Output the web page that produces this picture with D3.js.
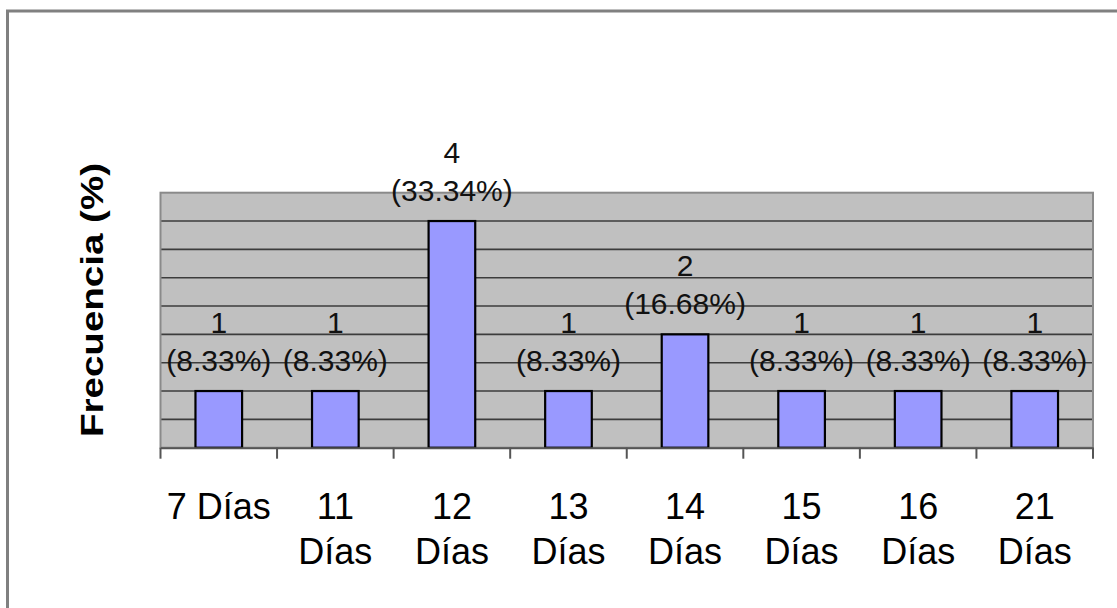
<!DOCTYPE html>
<html>
<head>
<meta charset="utf-8">
<script src="https://cdn.jsdelivr.net/npm/d3@7/dist/d3.min.js"></script>
<style>
  html, body { margin: 0; padding: 0; background: #fff; }
  svg { display: block; font-family: "Liberation Sans", Arial, sans-serif; }
</style>
</head>
<body>
<svg id="chart" width="1117" height="608"></svg>
<script>
// Days of stay and how many cases fell on each
const categories = ["7 Días", "11 Días", "12 Días", "13 Días", "14 Días", "15 Días", "16 Días", "21 Días"];
const counts = [1, 1, 4, 1, 2, 1, 1, 1];
const percents = [8.33, 8.33, 33.34, 8.33, 16.68, 8.33, 8.33, 8.33];
const yTicks = [0, 0.5, 1, 1.5, 2, 2.5, 3, 3.5, 4, 4.5];
const yTitle = "Frecuencia (%)";

const svg = d3.select("#chart");

// Outer chart frame (left and top edges show within the page)
svg.append("rect")
  .attr("x", 7.5).attr("y", 11)
  .attr("width", 1200).attr("height", 700)
  .attr("fill", "none").attr("stroke", "#808080").attr("stroke-width", 3);

const plot = { left: 160.5, right: 1093, top: 192.7, bottom: 447.7 };

const x = d3.scaleBand()
  .domain(categories)
  .range([plot.left, plot.right])
  .paddingInner(0).paddingOuter(0);

const y = d3.scaleLinear()
  .domain([0, d3.max(yTicks)])
  .range([plot.bottom, plot.top]);

// Plot background
svg.append("rect")
  .attr("x", plot.left).attr("y", plot.top)
  .attr("width", plot.right - plot.left).attr("height", plot.bottom - plot.top)
  .attr("fill", "#c0c0c0");

// Horizontal gridlines
svg.append("g")
  .selectAll("line")
  .data(yTicks.filter(t => t > 0 && t < d3.max(yTicks)))
  .join("line")
  .attr("x1", plot.left).attr("x2", plot.right)
  .attr("y1", d => y(d)).attr("y2", d => y(d))
  .attr("stroke", "#3c3c3c").attr("stroke-width", 1.6);

// Plot border
svg.append("rect")
  .attr("x", plot.left).attr("y", plot.top)
  .attr("width", plot.right - plot.left).attr("height", plot.bottom - plot.top)
  .attr("fill", "none").attr("stroke", "#8a8a8a").attr("stroke-width", 2);

// Bars
const barW = x.bandwidth() * 0.4;
svg.append("g")
  .selectAll("rect")
  .data(categories)
  .join("rect")
  .attr("x", d => x(d) + (x.bandwidth() - barW) / 2)
  .attr("y", (d, i) => y(counts[i]))
  .attr("width", barW)
  .attr("height", (d, i) => y(0) - y(counts[i]))
  .attr("fill", "#9999ff")
  .attr("stroke", "#000").attr("stroke-width", 2.2);

// Category axis
const xAxis = d3.axisBottom(x).tickSize(11).tickSizeOuter(0).tickFormat("");
const gx = svg.append("g")
  .attr("transform", `translate(0,${plot.bottom})`)
  .call(xAxis);
gx.select(".domain").attr("stroke", "#555").attr("stroke-width", 2);
gx.selectAll(".tick").remove();
// boundary ticks between categories
gx.selectAll("line.sep")
  .data(d3.range(categories.length + 1))
  .join("line")
  .attr("class", "sep")
  .attr("x1", i => plot.left + i * x.bandwidth())
  .attr("x2", i => plot.left + i * x.bandwidth())
  .attr("y1", 0).attr("y2", 11)
  .attr("stroke", "#555").attr("stroke-width", 2);

// Category labels, wrapped when wider than the band
const labelSize = 36;
const labelG = svg.append("g")
  .attr("font-size", labelSize).attr("fill", "#000").attr("text-anchor", "middle");
categories.forEach(c => {
  const t = labelG.append("text")
    .attr("x", x(c) + x.bandwidth() / 2)
    .attr("y", 519);
  t.text(c);
  if (t.node().getComputedTextLength() > x.bandwidth() - 4) {
    t.text(null);
    c.split(" ").forEach((w, k) => {
      t.append("tspan")
        .attr("x", x(c) + x.bandwidth() / 2)
        .attr("dy", k === 0 ? 0 : 45)
        .text(w);
    });
  }
});

// Value labels: count above, percentage below
const valG = svg.append("g")
  .attr("font-size", 30).attr("fill", "#111").attr("text-anchor", "middle");
categories.forEach((c, i) => {
  const cx = x(c) + x.bandwidth() / 2;
  const top = y(counts[i]);
  valG.append("text").attr("x", cx).attr("y", top - 58).text(counts[i]);
  valG.append("text").attr("x", cx).attr("y", top - 20).text(`(${percents[i].toFixed(2)}%)`);
});

// Value axis title
svg.append("text")
  .attr("transform", "translate(103,300) rotate(-90)")
  .attr("text-anchor", "middle")
  .attr("font-size", 32).attr("font-weight", "bold")
  .attr("textLength", 274).attr("lengthAdjust", "spacingAndGlyphs")
  .attr("fill", "#000")
  .text(yTitle);
</script>
</body>
</html>
